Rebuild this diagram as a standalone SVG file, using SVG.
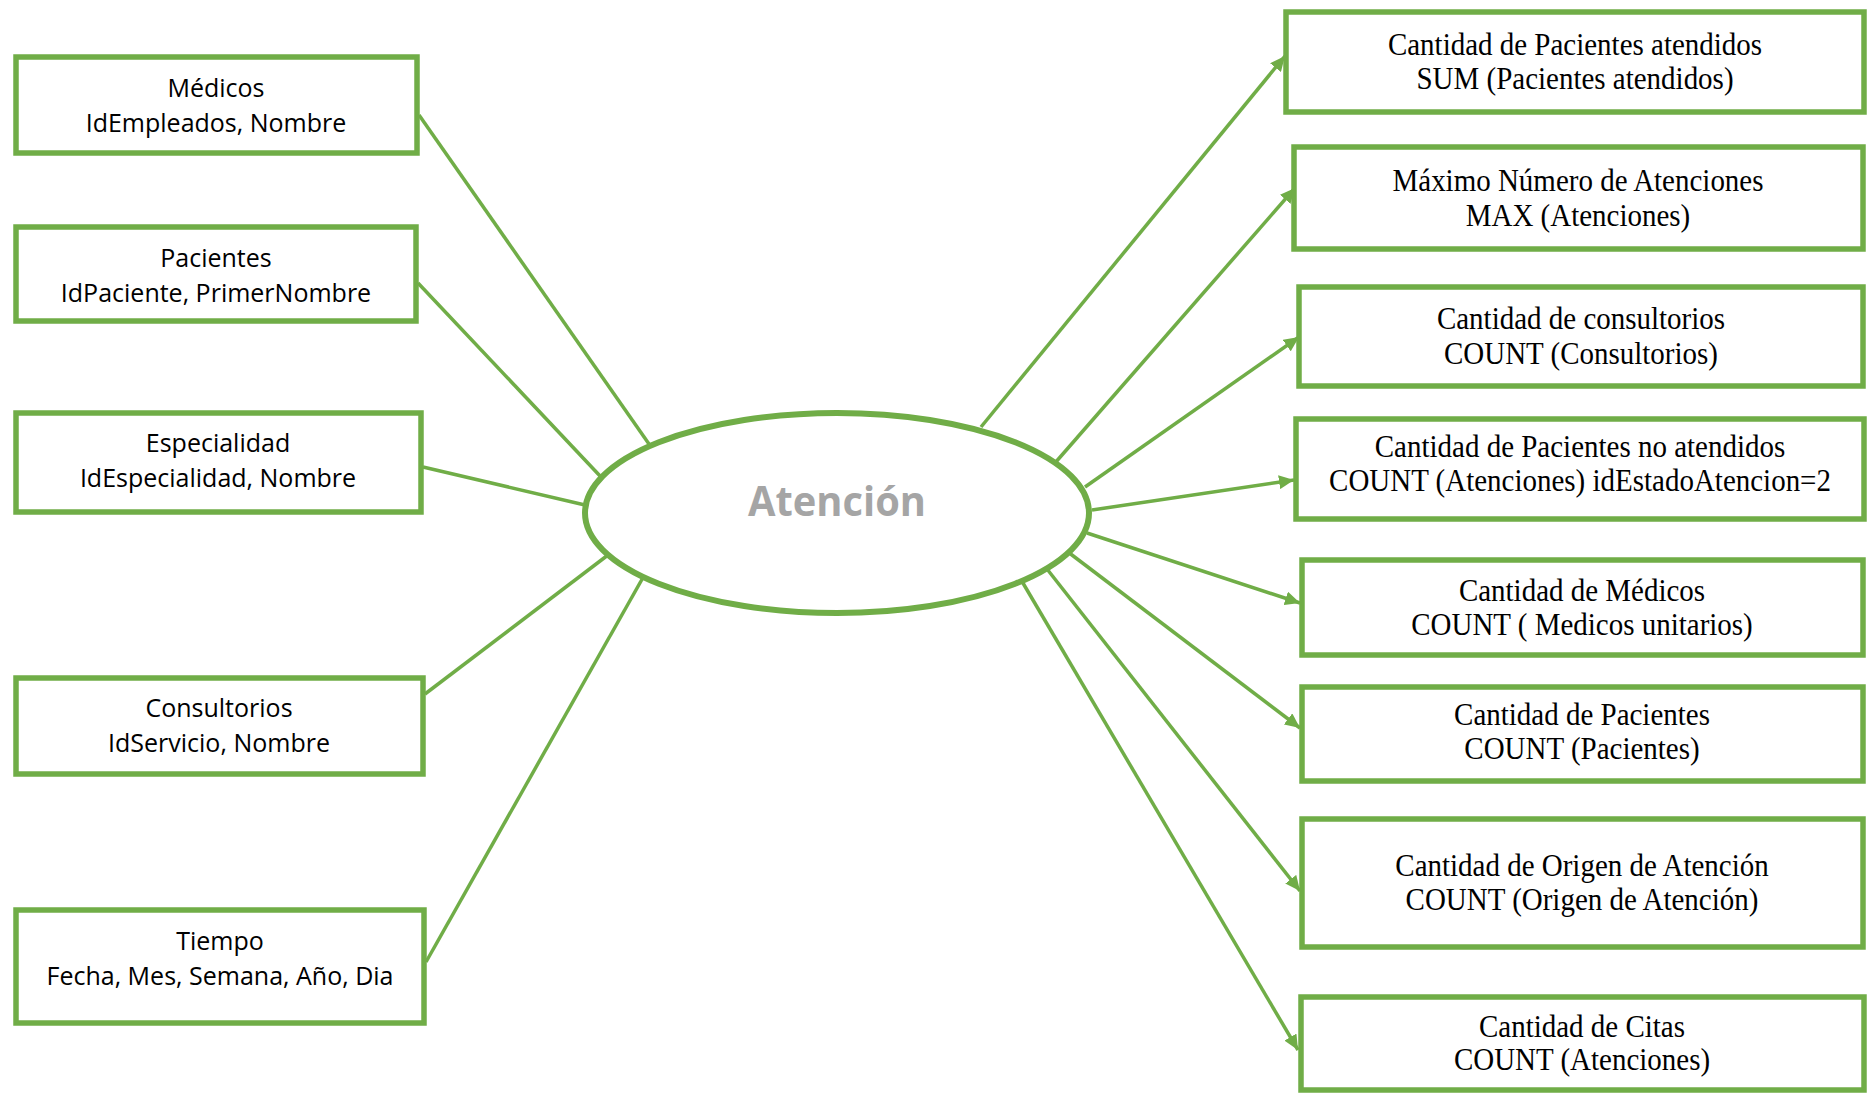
<svg xmlns="http://www.w3.org/2000/svg" width="1867" height="1094" viewBox="0 0 1867 1094">
  <style>
    .box { fill: #ffffff; stroke: #70AD47; stroke-width: 5.5; }
    .dim { font-family: "Open Sans", "DejaVu Sans", sans-serif; font-size: 25px; fill: #000000; text-anchor: middle; }
    .fact { font-family: "Liberation Serif", "Times New Roman", serif; font-size: 29px; fill: #000000; text-anchor: middle; }
    .link { stroke: #70AD47; stroke-width: 3.5; fill: none; }
    .arrow { stroke: #70AD47; stroke-width: 3.5; fill: none; marker-end: url(#head); }
    .hub { fill: #ffffff; stroke: #70AD47; stroke-width: 6; }
    .hubtext { font-family: "Open Sans", "DejaVu Sans", sans-serif; font-weight: bold; font-size: 42px; fill: #A5A5A5; text-anchor: middle; }
  </style>
  <defs>
    <marker id="head" markerUnits="userSpaceOnUse" markerWidth="16" markerHeight="14" refX="15" refY="7" orient="auto">
      <path d="M0,0 L15,7 L0,14 Z" fill="#70AD47"/>
    </marker>
  </defs>

  <rect width="1867" height="1094" fill="#ffffff"/>

  <!-- connectors -->
  <g id="connectors">
    <line class="link" x1="419" y1="115" x2="649" y2="444"/>
    <line class="link" x1="418" y1="283" x2="601" y2="477"/>
    <line class="link" x1="423" y1="467" x2="585" y2="505"/>
    <line class="link" x1="425" y1="694" x2="608" y2="555"/>
    <line class="link" x1="426" y1="962" x2="645" y2="574"/>

    <line class="arrow" x1="981" y1="427" x2="1285" y2="56"/>
    <line class="arrow" x1="1055" y1="463" x2="1295" y2="188"/>
    <line class="arrow" x1="1085" y1="487" x2="1299" y2="337"/>
    <line class="arrow" x1="1092" y1="510" x2="1294" y2="480"/>
    <line class="arrow" x1="1087" y1="533" x2="1300" y2="603"/>
    <line class="arrow" x1="1068" y1="552" x2="1300" y2="728"/>
    <line class="arrow" x1="1047" y1="569" x2="1300" y2="891"/>
    <line class="arrow" x1="1020" y1="578" x2="1298" y2="1050"/>
  </g>

  <!-- central fact -->
  <g id="atencion">
    <ellipse class="hub" cx="837" cy="513" rx="252" ry="100"/>
    <text class="hubtext" x="837" y="516" textLength="178" lengthAdjust="spacingAndGlyphs">Atención</text>
  </g>

  <!-- dimensions -->
  <g id="medicos">
    <rect class="box" x="16" y="57" width="401" height="96"/>
    <text class="dim" x="216" y="97">Médicos</text>
    <text class="dim" x="216" y="132">IdEmpleados, Nombre</text>
  </g>
  <g id="pacientes">
    <rect class="box" x="16" y="227" width="400" height="94"/>
    <text class="dim" x="216" y="267">Pacientes</text>
    <text class="dim" x="216" y="302">IdPaciente, PrimerNombre</text>
  </g>
  <g id="especialidad">
    <rect class="box" x="16" y="413" width="405" height="99"/>
    <text class="dim" x="218" y="452">Especialidad</text>
    <text class="dim" x="218" y="487">IdEspecialidad, Nombre</text>
  </g>
  <g id="consultorios">
    <rect class="box" x="16" y="678" width="407" height="96"/>
    <text class="dim" x="219" y="717">Consultorios</text>
    <text class="dim" x="219" y="752">IdServicio, Nombre</text>
  </g>
  <g id="tiempo">
    <rect class="box" x="16" y="910" width="408" height="113"/>
    <text class="dim" x="220" y="950">Tiempo</text>
    <text class="dim" x="220" y="985">Fecha, Mes, Semana, Año, Dia</text>
  </g>

  <!-- measures (serif text is slightly stretched vertically) -->
  <g id="pacientes-atendidos">
    <rect class="box" x="1286" y="12" width="578" height="100"/>
    <text class="fact" transform="translate(1575,55) scale(1,1.12)">Cantidad de Pacientes atendidos</text>
    <text class="fact" transform="translate(1575,89) scale(1,1.12)">SUM (Pacientes atendidos)</text>
  </g>
  <g id="maximo-atenciones">
    <rect class="box" x="1294" y="147" width="569" height="102"/>
    <text class="fact" transform="translate(1578,191) scale(1,1.12)">Máximo Número de Atenciones</text>
    <text class="fact" transform="translate(1578,226) scale(1,1.12)">MAX (Atenciones)</text>
  </g>
  <g id="cantidad-consultorios">
    <rect class="box" x="1299" y="287" width="564" height="99"/>
    <text class="fact" transform="translate(1581,329) scale(1,1.12)">Cantidad de consultorios</text>
    <text class="fact" transform="translate(1581,364) scale(1,1.12)">COUNT (Consultorios)</text>
  </g>
  <g id="pacientes-no-atendidos">
    <rect class="box" x="1296" y="419" width="568" height="100"/>
    <text class="fact" transform="translate(1580,457) scale(1,1.12)">Cantidad de Pacientes no atendidos</text>
    <text class="fact" transform="translate(1580,491) scale(1,1.12)">COUNT (Atenciones) idEstadoAtencion=2</text>
  </g>
  <g id="cantidad-medicos">
    <rect class="box" x="1302" y="560" width="561" height="95"/>
    <text class="fact" transform="translate(1582,601) scale(1,1.12)">Cantidad de Médicos</text>
    <text class="fact" transform="translate(1582,635) scale(1,1.12)">COUNT ( Medicos unitarios)</text>
  </g>
  <g id="cantidad-pacientes">
    <rect class="box" x="1302" y="687" width="561" height="94"/>
    <text class="fact" transform="translate(1582,725) scale(1,1.12)">Cantidad de Pacientes</text>
    <text class="fact" transform="translate(1582,759) scale(1,1.12)">COUNT (Pacientes)</text>
  </g>
  <g id="origen-atencion">
    <rect class="box" x="1302" y="819" width="561" height="128"/>
    <text class="fact" transform="translate(1582,876) scale(1,1.12)">Cantidad de Origen de Atención</text>
    <text class="fact" transform="translate(1582,910) scale(1,1.12)">COUNT (Origen de Atención)</text>
  </g>
  <g id="cantidad-citas">
    <rect class="box" x="1301" y="997" width="563" height="93"/>
    <text class="fact" transform="translate(1582,1037) scale(1,1.12)">Cantidad de Citas</text>
    <text class="fact" transform="translate(1582,1070) scale(1,1.12)">COUNT (Atenciones)</text>
  </g>
</svg>
